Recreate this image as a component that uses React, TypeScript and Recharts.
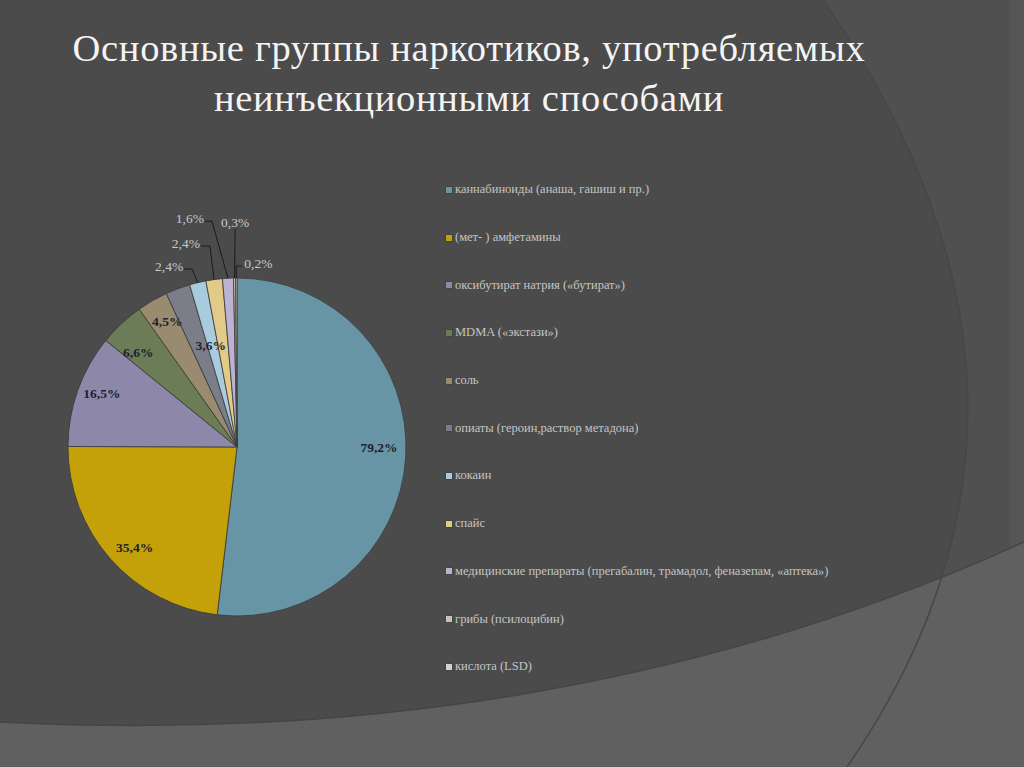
import { PieChart, Pie, Cell, Legend } from 'recharts'

const categories = [
  'каннабиноиды (анаша, гашиш  и пр.)',
  '(мет- ) амфетамины',
  'оксибутират натрия («бутират»)',
  'MDMA («экстази»)',
  'соль',
  'опиаты (героин,раствор метадона)',
  'кокаин',
  'спайс',
  'медицинские препараты (прегабалин, трамадол, феназепам, «аптека»)',
  'грибы (псилоцибин)',
  'кислота (LSD)'
]

const values = [79.2, 35.4, 16.5, 6.6, 4.5, 3.6, 2.4, 2.4, 1.6, 0.3, 0.2]

const colors = [
  '#6895a5',
  '#c4a109',
  '#8d88a9',
  '#6b7c56',
  '#998b6f',
  '#7b7d88',
  '#a8cbdd',
  '#e2cb88',
  '#bcb2d2',
  '#c9c3b6',
  '#d6d3ca'
]

const SERIF = "'Liberation Serif', 'Times New Roman', 'DejaVu Serif', serif"

// how each slice label is placed: inside at a radius ratio, or outside with a leader line
const labelLayout: any[] = [
  { type: 'in', rr: 0.84, da: -3 },
  { type: 'in', rr: 0.85, da: -3 },
  { type: 'in', rr: 0.86, da: 2 },
  { type: 'in', rr: 0.81, da: -3 },
  { type: 'in', rr: 0.85, da: 1 },
  { type: 'in', rr: 0.62, da: 6 },
  { type: 'out', ex: -5.6, ey: -13.6, hx: -8, anchor: 'end' },
  { type: 'out', ex: -4.2, ey: -33.5, hx: -9, anchor: 'end' },
  { type: 'out', ex: -16, ey: -57, hx: -7, anchor: 'end' },
  { type: 'out', ex: 0.5, ey: -49, hx: 0, anchor: 'middle' },
  { type: 'out', ex: 0, ey: -12, hx: 6, anchor: 'start' }
]

const chartData = categories.map((name, i) => ({ name, value: values[i] }))

const RADIAN = Math.PI / 180
const fmt = (v: number) => `${v.toFixed(1).replace('.', ',')}%`

const renderLabel = (props: any) => {
  const { cx, cy, midAngle, outerRadius, index, value } = props
  const l = labelLayout[index]
  if (l.type === 'in') {
    const a = (midAngle - l.da) * RADIAN
    const r = outerRadius * l.rr
    const x = cx + r * Math.cos(-a)
    const y = cy + r * Math.sin(-a)
    return (
      <text
        x={x}
        y={y}
        textAnchor="middle"
        dominantBaseline="central"
        fill="#1d2030"
        fontFamily={SERIF}
        fontWeight="bold"
        fontSize={13.5}
      >
        {fmt(value)}
      </text>
    )
  }
  const ax = cx + outerRadius * Math.cos(-midAngle * RADIAN)
  const ay = cy + outerRadius * Math.sin(-midAngle * RADIAN)
  const exx = ax + l.ex
  const eyy = ay + l.ey
  const hx = exx + l.hx
  const tx = l.anchor === 'end' ? hx - 1 : l.anchor === 'start' ? hx + 2 : hx
  const ty = l.anchor === 'middle' ? eyy - 2 : eyy + 2
  return (
    <g>
      <polyline
        points={`${ax},${ay} ${exx},${eyy} ${hx},${eyy}`}
        fill="none"
        stroke="#1a1a1a"
        strokeWidth={1}
      />
      <text x={tx} y={ty} textAnchor={l.anchor} fill="#c9c9c9" fontFamily={SERIF} fontSize={13.5}>
        {fmt(value)}
      </text>
    </g>
  )
}

const renderLegend = ({ payload }: any) => (
  <div>
    {(payload || []).map((entry: any, i: number) => {
      const idx = categories.indexOf(entry.value)
      return (
        <div
          key={i}
          style={{
            display: 'flex',
            alignItems: 'center',
            height: 47.7,
            whiteSpace: 'nowrap',
            color: '#c4c4c4',
            fontFamily: SERIF,
            fontSize: 12.5
          }}
        >
          <span
            style={{
              display: 'inline-block',
              width: 6,
              height: 6,
              background: colors[idx >= 0 ? idx : i],
              marginRight: 3,
              boxShadow: '0 0 1px #222'
            }}
          />
          <span>{entry.value}</span>
        </div>
      )
    })}
  </div>
)

export default function App() {
  return (
    <div
      style={{
        position: 'absolute',
        left: 0,
        top: 0,
        width: 1024,
        height: 767,
        overflow: 'hidden',
        background: '#4b4b4b'
      }}
    >
      <svg width={1024} height={767} style={{ position: 'absolute', left: 0, top: 0 }}>
        <rect width={1024} height={767} fill="#4b4b4b" />
        <path d="M823,0 Q1100,400 847,767 L1024,767 L1024,0 Z" fill="#505050" />
        <rect x={1010} y={0} width={14} height={767} fill="#555" />
        <path d="M0,722 C350,740 700,690 1024,542 L1024,767 L0,767 Z" fill="#606060" />
        <path d="M0,722 C350,740 700,690 1024,542" fill="none" stroke="#454545" strokeWidth={1.5} />
        <path d="M823,0 Q1100,400 847,767" fill="none" stroke="#474747" strokeWidth={1.5} />
      </svg>

      <div
        style={{
          position: 'absolute',
          left: 0,
          top: 23,
          width: 938,
          textAlign: 'center',
          color: '#f4f4f4',
          fontFamily: SERIF,
          fontSize: 38.5,
          letterSpacing: 0.7,
          lineHeight: '50px'
        }}
      >
        <div>Основные группы наркотиков, употребляемых</div>
        <div>неинъекционными способами</div>
      </div>

      <div style={{ position: 'absolute', left: 0, top: 0 }}>
        <PieChart width={1024} height={767} margin={{ top: 0, right: 0, bottom: 0, left: 0 }}>
          <Pie
            data={chartData}
            dataKey="value"
            nameKey="name"
            cx={237}
            cy={447}
            outerRadius={169}
            startAngle={90}
            endAngle={-270}
            stroke="#3a3a3a"
            strokeWidth={0.8}
            label={renderLabel}
            labelLine={false}
            isAnimationActive={false}
          >
            {chartData.map((_, i) => (
              <Cell key={i} fill={colors[i]} />
            ))}
          </Pie>
          <Legend
            layout="vertical"
            align="right"
            verticalAlign="top"
            itemSorter={null as any}
            content={renderLegend}
            wrapperStyle={{ position: 'absolute', left: 446, top: 166, width: 420 }}
          />
        </PieChart>
      </div>
    </div>
  )
}
